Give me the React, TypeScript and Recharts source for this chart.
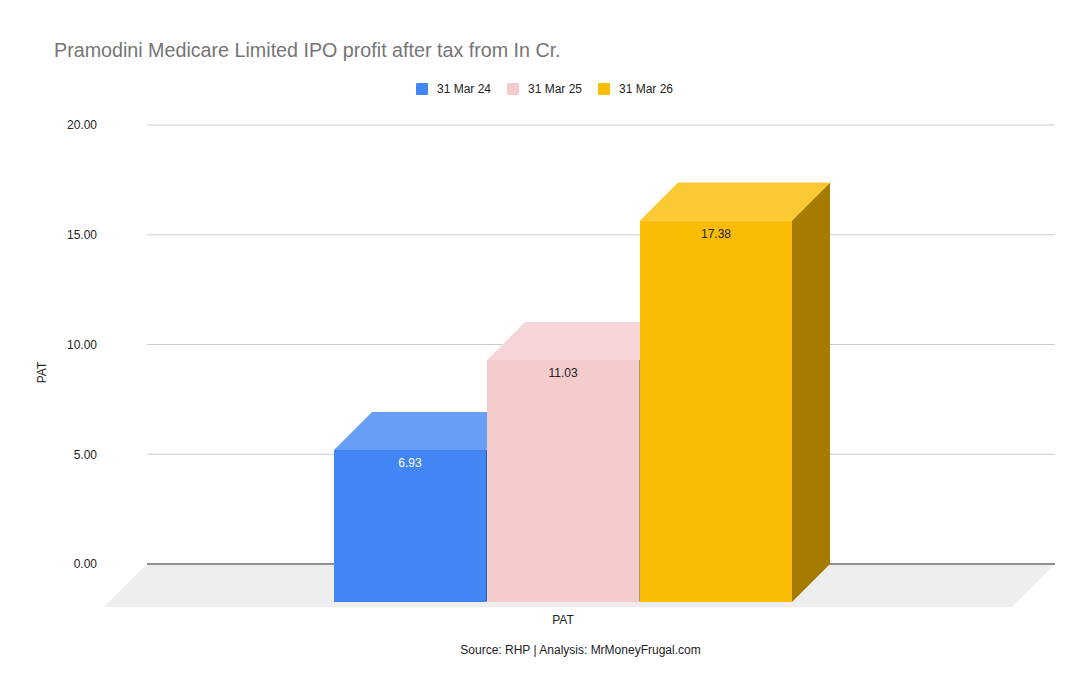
import React from "react";
import {
  BarChart,
  Bar,
  XAxis,
  YAxis,
  CartesianGrid,
  ReferenceArea,
  LabelList,
  Label,
} from "recharts";

// data
const categories = ["PAT"];
const seriesNames = ["31 Mar 24", "31 Mar 25", "31 Mar 26"];
const seriesKeys = ["mar24", "mar25", "mar26"];
const patValues = [6.93, 11.03, 17.38];
const yTicks = [0, 5, 10, 15, 20];

const frontColors = ["#4285f4", "#f4cccc", "#fbbc04"];
const topColors = ["#689ef6", "#f6d6d8", "#fcc934"];
const sideColors = ["#2e5cab", "#a68f8f", "#a67c00"];
const labelColors = ["#ffffff", "#222222", "#222222"];

const data = categories.map((name, c) => {
  const row: Record<string, string | number> = { name };
  seriesKeys.forEach((k, i) => {
    row[k] = [patValues][c][i];
  });
  return row;
});

const DEPTH = 38; // 3d offset of the bars
const FLOOR = 43; // 3d offset of the floor
const FONT = "Arial, 'Liberation Sans', sans-serif";

function makeBox(i: number) {
  return (props: any) => {
    const { x, y, width, height } = props;
    const fx = x - DEPTH;
    const fy = y + DEPTH;
    return (
      <g>
        <polygon
          points={`${fx + width},${fy} ${x + width},${y} ${x + width},${y + height} ${fx + width},${fy + height}`}
          fill={sideColors[i]}
        />
        <polygon
          points={`${fx},${fy} ${x},${y} ${x + width},${y} ${fx + width},${fy}`}
          fill={topColors[i]}
        />
        <rect x={fx} y={fy} width={width} height={height} fill={frontColors[i]} />
      </g>
    );
  };
}

function makeLabel(i: number) {
  return (props: any) => {
    const { x, y, width, value } = props;
    return (
      <text
        x={x - DEPTH + width / 2}
        y={y + DEPTH + 13}
        dy="0.35em"
        textAnchor="middle"
        fontSize={12}
        fontFamily={FONT}
        fill={labelColors[i]}
      >
        {Number(value).toFixed(2)}
      </text>
    );
  };
}

function Floor(props: any) {
  const { x, y, width, height } = props;
  const by = y + height;
  return (
    <g>
      <polygon
        points={`${x},${by} ${x + width},${by} ${x + width - FLOOR},${by + FLOOR} ${x - FLOOR},${by + FLOOR}`}
        fill="#eeeeee"
      />
      <line x1={x} y1={by} x2={x + width} y2={by} stroke="#333333" strokeWidth={1} />
    </g>
  );
}

function XTick(props: any) {
  const { x, y, payload } = props;
  return (
    <text
      x={x - DEPTH}
      y={y + 56}
      dy="0.35em"
      textAnchor="middle"
      fontSize={12}
      fontFamily={FONT}
      fill="#222222"
    >
      {payload.value}
    </text>
  );
}

export default function App() {
  return (
    <div
      style={{
        position: "absolute",
        left: 0,
        top: 0,
        width: 1090,
        height: 694,
        background: "#ffffff",
        fontFamily: FONT,
      }}
    >
      <div
        style={{
          position: "absolute",
          left: 54,
          top: 38,
          fontSize: 19.7,
          lineHeight: "24px",
          color: "#757575",
          whiteSpace: "nowrap",
        }}
      >
        Pramodini Medicare Limited IPO profit after tax from In Cr.
      </div>

      <div
        style={{
          position: "absolute",
          left: 0,
          top: 81,
          width: 1090,
          display: "flex",
          justifyContent: "center",
          fontSize: 12,
          color: "#222222",
        }}
      >
        <div style={{ display: "flex", marginLeft: -1 }}>
          {seriesNames.map((s, i) => (
            <div
              key={s}
              style={{ display: "flex", alignItems: "center", marginRight: i < 2 ? 16 : 0 }}
            >
              <span
                style={{
                  width: 12,
                  height: 12,
                  background: frontColors[i],
                  borderRadius: 1,
                  marginRight: 9,
                  display: "inline-block",
                }}
              />
              <span style={{ lineHeight: "16px" }}>{s}</span>
            </div>
          ))}
        </div>
      </div>

      <BarChart
        width={1090}
        height={694}
        data={data}
        margin={{ top: 125, right: 35, bottom: 0, left: 0 }}
        barCategoryGap={225}
        barGap={1}
      >
        <CartesianGrid vertical={false} stroke="#cccccc" />
        <ReferenceArea y1={0} y2={20} shape={Floor} ifOverflow="visible" />
        <XAxis
          dataKey="name"
          height={130}
          axisLine={false}
          tickLine={false}
          tickSize={0}
          tickMargin={0}
          tick={<XTick />}
        />
        <YAxis
          width={147}
          domain={[0, 20]}
          ticks={yTicks}
          axisLine={false}
          tickLine={false}
          tickSize={0}
          tickMargin={50}
          tickFormatter={(v: number) => v.toFixed(2)}
          tick={{ fontSize: 12, fill: "#222222", fontFamily: FONT }}
        >
          <Label
            content={(p: any) => {
              const vb = p.viewBox;
              const lx = vb.x + 42;
              const ly = vb.y + vb.height / 2 + 28;
              return (
                <text
                  x={lx}
                  y={ly}
                  dy="0.35em"
                  textAnchor="middle"
                  transform={`rotate(-90 ${lx} ${ly})`}
                  fontSize={12}
                  fontFamily={FONT}
                  fill="#222222"
                >
                  PAT
                </text>
              );
            }}
          />
        </YAxis>
        {seriesKeys.map((k, i) => (
          <Bar
            key={k}
            dataKey={k}
            name={seriesNames[i]}
            fill={frontColors[i]}
            shape={makeBox(i)}
            isAnimationActive={false}
          >
            <LabelList dataKey={k} content={makeLabel(i)} />
          </Bar>
        ))}
      </BarChart>

      <div
        style={{
          position: "absolute",
          left: 0,
          top: 643,
          width: 1161,
          textAlign: "center",
          fontSize: 12,
          color: "#222222",
        }}
      >
        Source: RHP | Analysis: MrMoneyFrugal.com
      </div>
    </div>
  );
}
